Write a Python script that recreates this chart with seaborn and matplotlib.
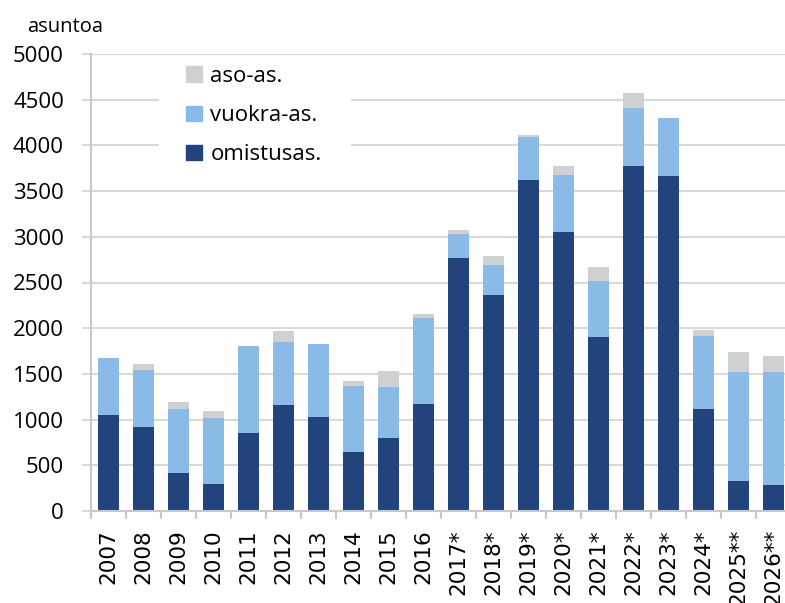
import pandas as pd
import seaborn as sns
import matplotlib.pyplot as plt
from matplotlib.patches import Patch, Rectangle

years = ['2007', '2008', '2009', '2010', '2011', '2012', '2013', '2014', '2015', '2016',
         '2017*', '2018*', '2019*', '2020*', '2021*', '2022*', '2023*', '2024*', '2025**', '2026**']
omistus = [1045, 915, 415, 300, 850, 1160, 1025, 650, 795, 1168,
           2766, 2367, 3626, 3055, 1902, 3776, 3669, 1120, 333, 289]
vuokra = [630, 627, 700, 722, 952, 690, 800, 716, 560, 946,
          267, 322, 461, 622, 611, 636, 633, 793, 1193, 1237]
aso = [0, 66, 73, 73, 0, 117, 0, 55, 172, 40,
       36, 106, 29, 102, 154, 161, 0, 70, 219, 172]

c_omistus = '#22437c'
c_vuokra = '#89bbe6'
c_aso = '#cfd0d2'

df = pd.DataFrame({'vuosi': years, 'omistus': omistus, 'vuokra': vuokra, 'aso': aso})
df['kaksi'] = df['omistus'] + df['vuokra']
df['kaikki'] = df['kaksi'] + df['aso']

plt.rcParams['font.family'] = ['Open Sans', 'DejaVu Sans']

fig = plt.figure(figsize=(7.85, 6.03), dpi=100)
ax = fig.add_axes([91 / 785, 1 - 511 / 603, 700 / 785, 457 / 603])

# layered bars: totals first, then smaller sums on top
sns.barplot(data=df, x='vuosi', y='kaikki', color=c_aso, width=0.6, saturation=1, ax=ax)
sns.barplot(data=df, x='vuosi', y='kaksi', color=c_vuokra, width=0.6, saturation=1, ax=ax)
sns.barplot(data=df, x='vuosi', y='omistus', color=c_omistus, width=0.6, saturation=1, ax=ax)

ax.set_xlim(-0.5, 19.5)
ax.set_ylim(0, 5000)
ax.set_yticks(range(0, 5001, 500))
ax.yaxis.grid(True, color='#d9d9d9', linewidth=1.5)
ax.set_axisbelow(True)
ax.set_xlabel('')
ax.set_ylabel('')

for s in ['top', 'right']:
    ax.spines[s].set_visible(False)
for s in ['left', 'bottom']:
    ax.spines[s].set_color('#c8c8c8')
    ax.spines[s].set_linewidth(1.5)

ax.tick_params(axis='y', length=6.5, width=1.5, color='#d9d9d9', pad=13, labelsize=16)
ax.set_xticks(range(len(years)))
ax.set_xticklabels(years, rotation=90, va='top')
ax.tick_params(axis='x', which='major', length=0, pad=13, labelsize=15.5,
               labelfontfamily='DejaVu Sans')
ax.set_xticks([i - 0.5 for i in range(len(years) + 1)], minor=True)
ax.tick_params(axis='x', which='minor', length=6, width=1.5, color='#c8c8c8')

fig.text(27 / 785, 1 - 27 / 603, 'asuntoa', fontsize=14.5, va='center', ha='left')

# white box behind the legend, hiding the gridlines
ax.add_patch(Rectangle((159 / 785, 1 - 180 / 603), 192 / 785, 123 / 603,
                       transform=fig.transFigure, facecolor='white', edgecolor='none',
                       zorder=1.5, clip_on=False))

handles = [Patch(color=c_aso, label='aso-as.'),
           Patch(color=c_vuokra, label='vuokra-as.'),
           Patch(color=c_omistus, label='omistusas.')]
leg = ax.legend(handles=handles, loc='upper left', bbox_to_anchor=(186 / 785, 1 - 66 / 603),
                bbox_transform=fig.transFigure, frameon=False, fontsize=16,
                handlelength=0.7, handleheight=0.7, handletextpad=0.4, labelspacing=0.82,
                borderpad=0, borderaxespad=0)

fig.savefig('out.png', dpi=100)
